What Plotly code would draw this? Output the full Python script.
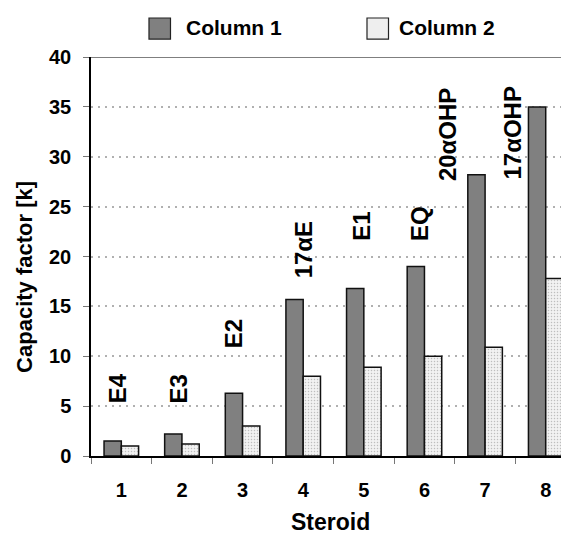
import plotly.graph_objects as go

# ---- data ----
steroids = [1, 2, 3, 4, 5, 6, 7, 8]
column1 = [1.5, 2.2, 6.3, 15.7, 16.8, 19.0, 28.2, 35.0]
column2 = [1.0, 1.2, 3.0, 8.0, 8.9, 10.0, 10.9, 17.8]
series_names = ["Column 1", "Column 2"]
labels = ["E4", "E3", "E2", "17αE", "E1", "EQ", "20αOHP", "17αOHP"]
y_ticks = [0, 5, 10, 15, 20, 25, 30, 35, 40]

# ---- label placement (layout, not data) ----
label_dx = [-0.07, -0.05, -0.15, 0.02, -0.05, -0.09, -0.63, -0.55]
label_y = [5.1, 5.1, 10.6, 17.6, 21.4, 21.3, 27.4, 27.5]

FONT = "Liberation Sans, Arial, sans-serif"
COL1 = "#808080"
COL2 = "#eeeeee"

fig = go.Figure()
fig.add_trace(go.Bar(
    x=steroids, y=column1, name=series_names[0],
    marker=dict(color=COL1, line=dict(color="#111111", width=1.5)),
))
fig.add_trace(go.Bar(
    x=steroids, y=column2, name=series_names[1],
    marker=dict(color=COL2, line=dict(color="#111111", width=1.5),
                pattern=dict(shape=".", fgcolor="#8a8a8a", bgcolor="#f2f2f2",
                             size=3, solidity=0.2)),
))

for s, lab, dx, ly in zip(steroids, labels, label_dx, label_y):
    fig.add_annotation(
        x=s + dx, y=ly, text=lab, textangle=-90, showarrow=False,
        xanchor="center", yanchor="bottom",
        font=dict(family=FONT, size=24, color="#000000", weight="bold"),
    )

fig.add_annotation(
    text="Capacity factor [k]", xref="paper", yref="paper",
    x=-0.138, y=0.449, xanchor="center", yanchor="middle", textangle=-90,
    showarrow=False,
    font=dict(family=FONT, size=22, color="#000000", weight="bold"),
)
fig.add_annotation(
    text="Steroid", xref="paper", yref="paper",
    x=0.50, y=-0.165, xanchor="center", yanchor="middle",
    showarrow=False,
    font=dict(family=FONT, size=23, color="#000000", weight="bold"),
)

# ---- legend drawn as swatches + text (larger swatches than Plotly's) ----
legend_sw_x = [0.1213, 0.5774]
legend_text_x = [0.1946, 0.6402]
shapes = [dict(type="line", xref="paper", yref="y", x0=0, x1=1, y0=40, y1=40,
               line=dict(color="#555555", width=1.5))]
for name, color, sx, tx in zip(series_names, [COL1, COL2], legend_sw_x, legend_text_x):
    shapes.append(dict(type="rect", xref="paper", yref="paper",
                       x0=sx, x1=sx + 0.045, y0=1.045, y1=1.0977,
                       fillcolor=color, line=dict(color="#222222", width=1.2)))
    fig.add_annotation(
        text=name, xref="paper", yref="paper", x=tx, y=1.0727,
        xanchor="left", yanchor="middle", showarrow=False,
        font=dict(family=FONT, size=21, color="#000000", weight="bold"),
    )

fig.update_layout(
    width=561, height=527,
    margin=dict(l=83, r=0, t=49, b=79, autoexpand=False),
    paper_bgcolor="white", plot_bgcolor="white",
    barmode="group", bargap=0.43, bargroupgap=0,
    font=dict(family=FONT, size=20, color="#000000", weight="bold"),
    showlegend=False,
    xaxis=dict(
        range=[0.5, 8.384], tickvals=steroids, ticktext=[str(s) for s in steroids],
        ticks="outside", ticklen=15, tickcolor="rgba(0,0,0,0)",
        minor=dict(tick0=0.5, dtick=1, ticks="outside", ticklen=6,
                   tickcolor="#777777", showgrid=False),
        showline=True, linecolor="#000000", linewidth=1.5,
        mirror=False, showgrid=False, zeroline=False, fixedrange=True,
        tickfont=dict(family=FONT, size=20, color="#000000", weight="bold"),
    ),
    yaxis=dict(
        range=[0, 40], tickvals=y_ticks,
        ticks="outside", ticklen=6, tickcolor="#777777",
        ticklabelstandoff=8,
        showline=True, linecolor="#000000", linewidth=1.5,
        showgrid=True, gridcolor="#b0b0b0", griddash="2px,5px", gridwidth=1.5,
        zeroline=False, fixedrange=True,
        tickfont=dict(family=FONT, size=20, color="#000000", weight="bold"),
    ),
    shapes=shapes,
)

fig.write_html("out.html")
